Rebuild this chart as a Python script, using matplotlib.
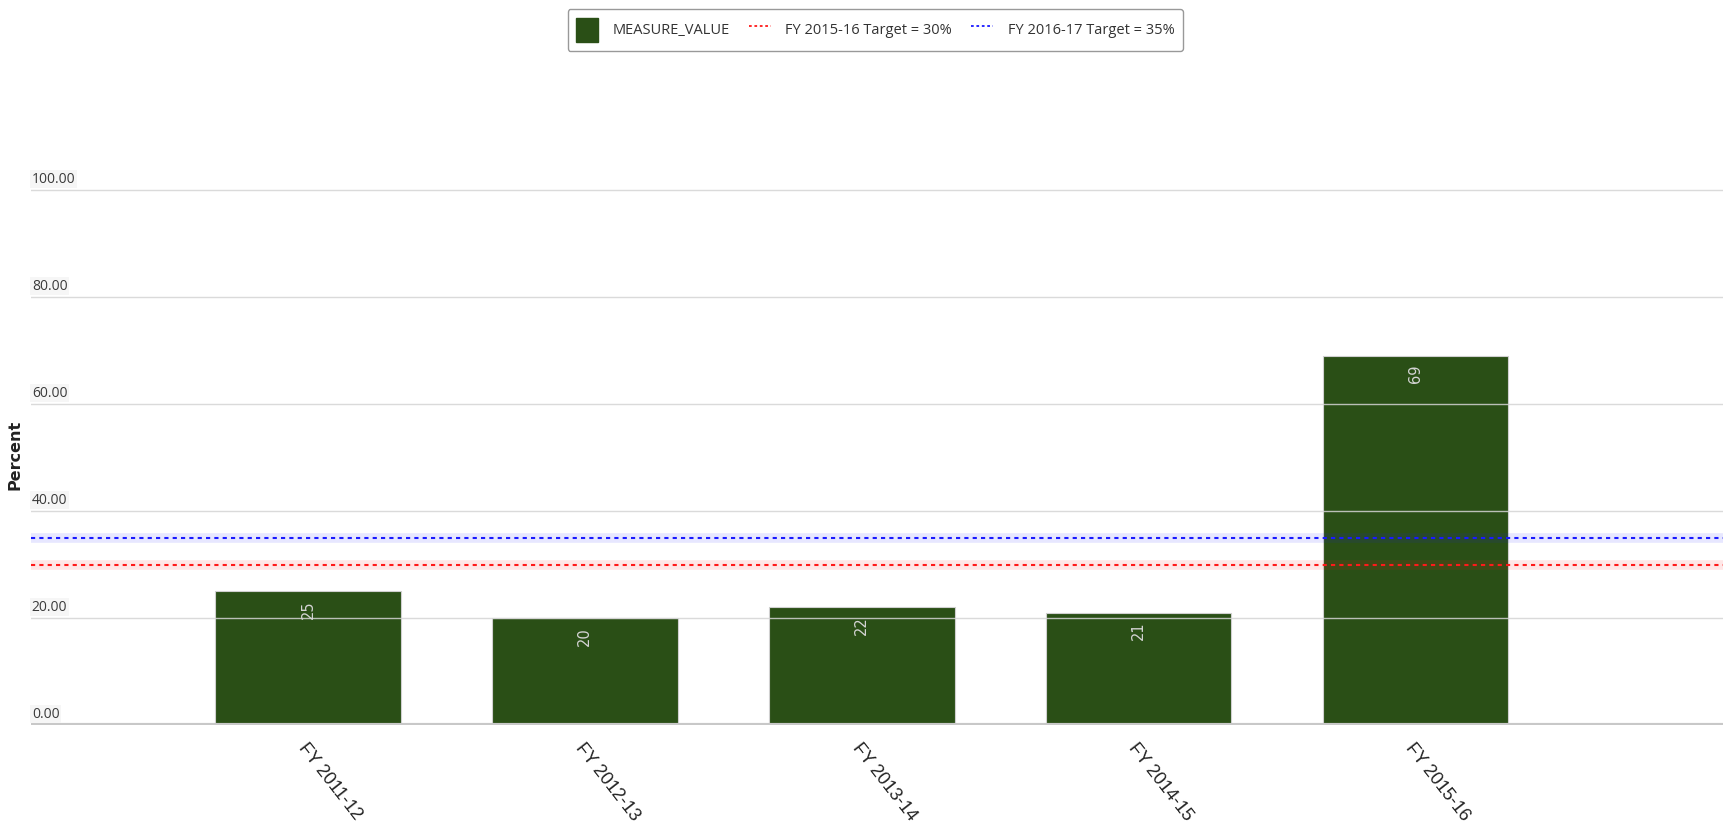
import matplotlib.pyplot as plt
from matplotlib.lines import Line2D
from matplotlib.patches import Patch

years = ['FY 2011-12', 'FY 2012-13', 'FY 2013-14', 'FY 2014-15', 'FY 2015-16']
values = [25, 20, 22, 21, 69]
targets = [30, 35]
target_names = ['FY 2015-16 Target = 30%', 'FY 2016-17 Target = 35%']
target_colors = ['#ff1a1a', '#1a1aff']
yticks = [0, 20, 40, 60, 80, 100]

bar_color = '#2a4f16'

fig = plt.figure(figsize=(17.23, 8.30), dpi=100)
ax = fig.add_axes([0.018, 0.1265, 0.982, 0.651])

x = list(range(len(years)))
bars = ax.bar(x, values, width=0.67, color=bar_color,
              edgecolor='#d0d0d0', linewidth=0.8, zorder=1)

for b, v in zip(bars, values):
    ax.annotate(str(v), (b.get_x() + b.get_width() / 2, v),
                xytext=(0, -6.5), textcoords='offset points',
                rotation=90, ha='center', va='top',
                fontsize=10.5, color='#d4d4d4', zorder=5)

# grid drawn over the bars, like the original
for v in yticks[1:]:
    ax.axhline(v, color='#d4d4d4', linewidth=1.0, alpha=0.85, zorder=2)
ax.axhline(0, color='#c8c8c8', linewidth=3, zorder=2)

for t, c in zip(targets, target_colors):
    ax.axhline(t, color=c, linewidth=7, alpha=0.1, zorder=3)
    ax.axhline(t, color=c, linewidth=1.5, linestyle=(0, (2, 2)), zorder=4)

ax.set_xlim(-1.0, 5.11)
ax.set_ylim(0, 101)
ax.set_yticks(yticks)
ax.tick_params(axis='y', length=0, labelleft=False)
for v in yticks:
    ax.text(0.0005, v + 0.6, f'{v:.2f}', transform=ax.get_yaxis_transform(),
            ha='left', va='bottom', fontsize=10, family='Open Sans',
            color='#3a3a3a', zorder=6,
            bbox=dict(facecolor='#f6f6f6', edgecolor='none', pad=1))

ax.set_xticks(x)
ax.set_xticklabels(years, rotation=-52, ha='left', va='top',
                   rotation_mode='anchor', fontsize=13,
                   family='Liberation Sans', color='#222222')
ax.tick_params(axis='x', length=0, pad=11)

for s in ax.spines.values():
    s.set_visible(False)

ax.set_ylabel('Percent', fontsize=11.5, fontweight='bold', labelpad=6,
              color='#222222')

handles = [Patch(facecolor=bar_color, edgecolor=bar_color)]
for c in target_colors:
    handles.append(Line2D([], [], color=c, linewidth=1.3,
                          linestyle=(0, (1.5, 1.5))))
leg = fig.legend(handles, ['MEASURE_VALUE'] + target_names,
                 loc='upper center', bbox_to_anchor=(0.508, 0.998),
                 ncol=3, prop={'family': 'Open Sans', 'size': 10.5},
                 handlelength=1.5, handleheight=2.2, columnspacing=1.3,
                 handletextpad=1.0, borderpad=0.6, frameon=True,
                 fancybox=True, edgecolor='#999999', framealpha=1)
leg.get_frame().set_linewidth(1.0)
for txt in leg.get_texts():
    txt.set_color('#333333')

fig.savefig('out.png', dpi=100)
